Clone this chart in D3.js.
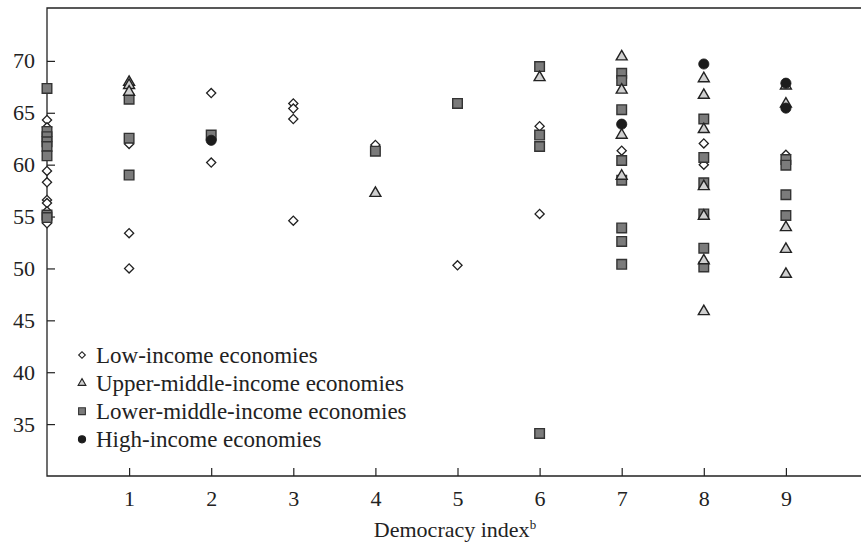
<!DOCTYPE html>
<html>
<head>
<meta charset="utf-8">
<script src="https://cdn.jsdelivr.net/npm/d3@7"></script>
<style>
  html, body { margin: 0; padding: 0; background: #fff; }
  svg { display: block; }
  svg text { font-family: "Liberation Serif", "DejaVu Serif", "Times New Roman", serif; }
</style>
</head>
<body>
<svg id="chart" width="861" height="546"></svg>
<script>
// Life expectancy by democracy index, grouped by income class
const lowX = [0,0,0,0,0,0,0,0, 1,1,1, 2,2, 3,3,3,3, 4, 5, 6,6, 7, 8,8, 9];
const lowY = [64.3,63.6,59.4,58.3,56.6,56.3,55.5,54.35, 62.0,53.4,50.0, 66.9,60.2, 65.9,65.4,64.4,54.6, 61.9, 50.3, 63.7,55.25, 61.35, 62.05,60.0, 60.95];

const lowerMidX = [0,0,0,0,0,0,0,0, 1,1,1, 2, 4, 5, 6,6,6,6, 7,7,7,7,7,7,7,7, 8,8,8,8,8,8, 9,9,9,9];
const lowerMidY = [67.35,63.2,62.7,62.2,61.75,60.85,55.15,54.9, 66.3,62.55,59.0, 62.85, 61.3, 65.9, 69.45,62.85,61.75,34.1, 68.8,68.1,65.3,60.4,58.5,53.9,52.6,50.4, 64.4,60.7,58.25,55.25,51.95,50.15, 60.5,59.95,57.1,55.1];

const upperMidX = [1,1,1, 4, 6, 7,7,7,7, 8,8,8,8,8,8,8, 9,9,9,9,9];
const upperMidY = [67.95,67.65,67.0, 57.25, 68.4, 70.4,67.2,62.85,58.9, 68.3,66.7,63.4,57.9,55.05,50.75,45.85, 67.6,65.85,53.95,51.85,49.45];

const highX = [2, 7, 8, 9,9];
const highY = [62.35, 63.9, 69.7, 67.85, 65.45];

const xTicks = [1,2,3,4,5,6,7,8,9];
const yTicks = [35,40,45,50,55,60,65,70];

const legendLabels = [
  "Low-income economies",
  "Upper-middle-income economies",
  "Lower-middle-income economies",
  "High-income economies"
];

const svg = d3.select("#chart");
const plotLeft = 47, plotTop = 8, plotBottom = 476;
const FONT = "Liberation Serif, DejaVu Serif, serif";

const x = d3.scaleLinear().domain([0, 10]).range([plotLeft, plotLeft + 821]);
const y = d3.scaleLinear().domain([30, 75]).range([plotBottom, plotBottom - 45 * 10.378]);

// frame (right side runs off the page)
svg.append("path")
  .attr("d", `M${plotLeft + 900},${plotTop}H${plotLeft}V${plotBottom}H${plotLeft + 900}`)
  .attr("fill", "none").attr("stroke", "#222").attr("stroke-width", 1.3);

// axes with inward ticks
const yAxis = svg.append("g").attr("transform", `translate(${plotLeft},0)`)
  .call(d3.axisLeft(y).tickValues(yTicks).tickSize(-8).tickPadding(12).tickFormat(d3.format("d")));
const xAxis = svg.append("g").attr("transform", `translate(0,${plotBottom})`)
  .call(d3.axisBottom(x).tickValues(xTicks).tickSize(-8).tickPadding(14).tickFormat(d3.format("d")));
[yAxis, xAxis].forEach(g => {
  g.attr("font-family", FONT).attr("font-size", 22);
  g.select(".domain").remove();
  g.selectAll(".tick line").attr("stroke", "#222").attr("stroke-width", 1.2);
  g.selectAll(".tick text").attr("fill", "#222");
});

// axis title
const title = svg.append("text")
  .attr("x", 455).attr("y", 537).attr("text-anchor", "middle")
  .attr("font-family", FONT).attr("font-size", 22).attr("fill", "#222");
title.append("tspan").text("Democracy index");
title.append("tspan").text("b").attr("font-size", 13).attr("dy", -8).attr("fill", "#222");

// marker shapes
const sym = {
  diamond: d3.symbol().type(d3.symbolSquare),
  square: d3.symbol().type(d3.symbolSquare),
  triangle: d3.symbol().type(d3.symbolTriangle),
  circle: d3.symbol().type(d3.symbolCircle)
};
const styles = {
  low: {shape: "diamond", fill: "#fff", stroke: "#222", size: 42, rot: 45, sw: 1.3},
  lowerMid: {shape: "square", fill: "#7b7b7b", stroke: "#333", size: 92, rot: 0, sw: 1.4},
  upperMid: {shape: "triangle", fill: "#cfcfcf", stroke: "#222", size: 52, rot: 0, sw: 1.4},
  high: {shape: "circle", fill: "#1c1c1c", stroke: "#1c1c1c", size: 82, rot: 0, sw: 0.8}
};

function drawSeries(xs, ys, st) {
  svg.append("g").selectAll("path")
    .data(xs.map((d, i) => [d, ys[i]]))
    .join("path")
    .attr("d", sym[st.shape].size(st.size)())
    .attr("transform", d => `translate(${x(d[0])},${y(d[1])}) rotate(${st.rot})`)
    .attr("fill", st.fill).attr("stroke", st.stroke).attr("stroke-width", st.sw);
}
drawSeries(lowX, lowY, styles.low);
drawSeries(lowerMidX, lowerMidY, styles.lowerMid);
drawSeries(upperMidX, upperMidY, styles.upperMid);
drawSeries(highX, highY, styles.high);

// legend
const legendKeys = ["low", "upperMid", "lowerMid", "high"];
const legendSizes = {low: 22, upperMid: 26, lowerMid: 46, high: 40};
const lg = svg.append("g");
legendKeys.forEach((k, i) => {
  const st = styles[k];
  const cy = 355 + i * 28.1;
  lg.append("path")
    .attr("d", sym[st.shape].size(legendSizes[k])())
    .attr("transform", `translate(82,${cy}) rotate(${st.rot})`)
    .attr("fill", st.fill).attr("stroke", st.stroke).attr("stroke-width", 1.1);
  lg.append("text")
    .attr("x", 96).attr("y", cy).attr("dy", "0.35em")
    .attr("font-family", FONT).attr("font-size", 23).attr("fill", "#222")
    .text(legendLabels[i]);
});
</script>
</body>
</html>
